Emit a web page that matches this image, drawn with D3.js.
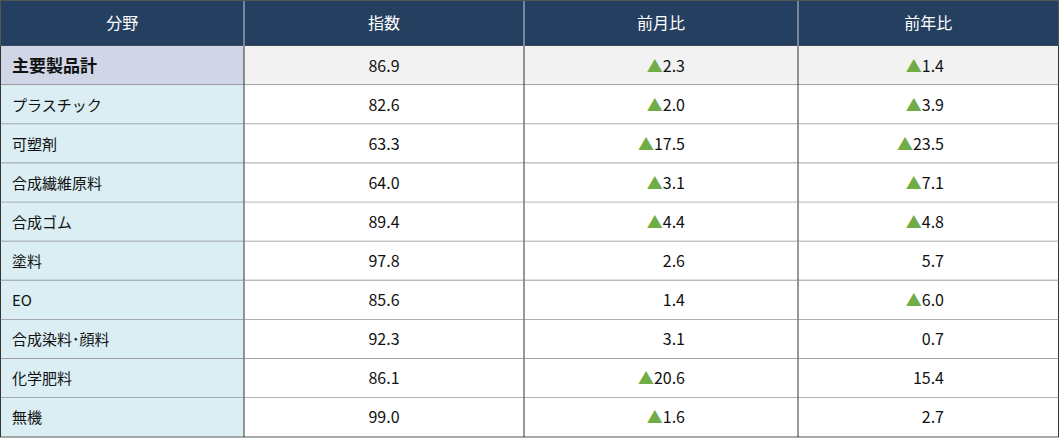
<!DOCTYPE html>
<html><head><meta charset="utf-8">
<script src="https://cdn.jsdelivr.net/npm/d3@7"></script>
<style>body{margin:0;background:#fff}text{font-family:"Noto Sans CJK JP","Noto Sans",sans-serif}</style>
</head><body><div id="chart"></div>
<script>
// data
var headers = ["分野", "指数", "前月比", "前年比"];
var categories = ["主要製品計","プラスチック","可塑剤","合成繊維原料","合成ゴム","塗料","EO","合成染料･顔料","化学肥料","無機"];
var indexValues = [86.9, 82.6, 63.3, 64.0, 89.4, 97.8, 85.6, 92.3, 86.1, 99.0];
// negative = shown with ▲
var momValues = [-2.3, -2.0, -17.5, -3.1, -4.4, 2.6, 1.4, 3.1, -20.6, -1.6];
var yoyValues = [-1.4, -3.9, -23.5, -7.1, -4.8, 5.7, -6.0, 0.7, 15.4, 2.7];

var W = 1060, H = 442;
var colEdges = [0.5, 244, 524, 798, 1058.5];
var svg = d3.select("#chart").append("svg").attr("width", W).attr("height", H);

var y = d3.scaleBand().domain(d3.range(categories.length)).range([46, 437]);

//header
svg.append("rect").attr("x", 0.5).attr("y", 0.5).attr("width", 1058).attr("height", 45.5).attr("fill", "#243F60").attr("stroke", "#555");
headers.forEach(function(h, i){
    if (i>0) svg.append("line").attr("x1", colEdges[i]).attr("x2", colEdges[i]).attr("y1", 1).attr("y2", 46)
        .attr("stroke", "#c8ccd4").attr("stroke-width", 1);
    svg.append("text").attr("x", (colEdges[i]+colEdges[i+1])/2).attr("y", 29)
        .attr("text-anchor", "middle").attr("fill", "#fff").attr("font-size", 16).text(h);
});

//rows
var rows = svg.selectAll("g.row").data(categories).enter().append("g")
    .attr("transform", function(d, i){ return "translate(0," + y(i) + ")"; });
var bh = y.bandwidth();

rows.append("rect").attr("x", colEdges[0]).attr("width", colEdges[1]-colEdges[0]).attr("height", bh)
    .attr("fill", function(d, i){ return i===0 ? "#D0D6E6" : "#DAEEF3"; });
rows.append("rect").attr("x", colEdges[1]).attr("width", colEdges[4]-colEdges[1]).attr("height", bh)
    .attr("fill", function(d, i){ return i===0 ? "#F2F2F2" : "#fff"; });
rows.append("line").attr("x1", 0).attr("x2", 1059).attr("y1", bh).attr("y2", bh)
    .attr("stroke", "#8c8c8c").attr("stroke-width", 1.5);
colEdges.forEach(function(x){
    rows.append("line").attr("x1", x).attr("x2", x).attr("y1", 0).attr("y2", bh).attr("stroke", "#333");
});

var ty = bh/2 + 6;
rows.append("text").attr("x", 12).attr("y", ty).attr("font-size", function(d, i){ return i===0 ? 17 : 15; })
    .attr("font-weight", function(d, i){ return i===0 ? "bold" : "normal"; })
    .attr("fill", "#111").text(function(d){ return d; });
rows.append("text").attr("x", 384).attr("y", ty).attr("text-anchor", "middle").attr("font-size", 16)
    .attr("fill", "#111").text(function(d, i){ return indexValues[i].toFixed(1); });

var addChange = function(vals, xr){
    rows.each(function(d, i){
        var t = d3.select(this).append("text").attr("x", xr).attr("y", ty).attr("text-anchor", "end")
            .attr("font-size", 16).attr("fill", "#111");
        var v = vals[i];
        if (v<0) t.append("tspan").attr("fill", "#70AD47").text("▲");
        t.append("tspan").text(Math.abs(v).toFixed(1));
    });
};
addChange(momValues, 685);
addChange(yoyValues, 944);
</script></body></html>
